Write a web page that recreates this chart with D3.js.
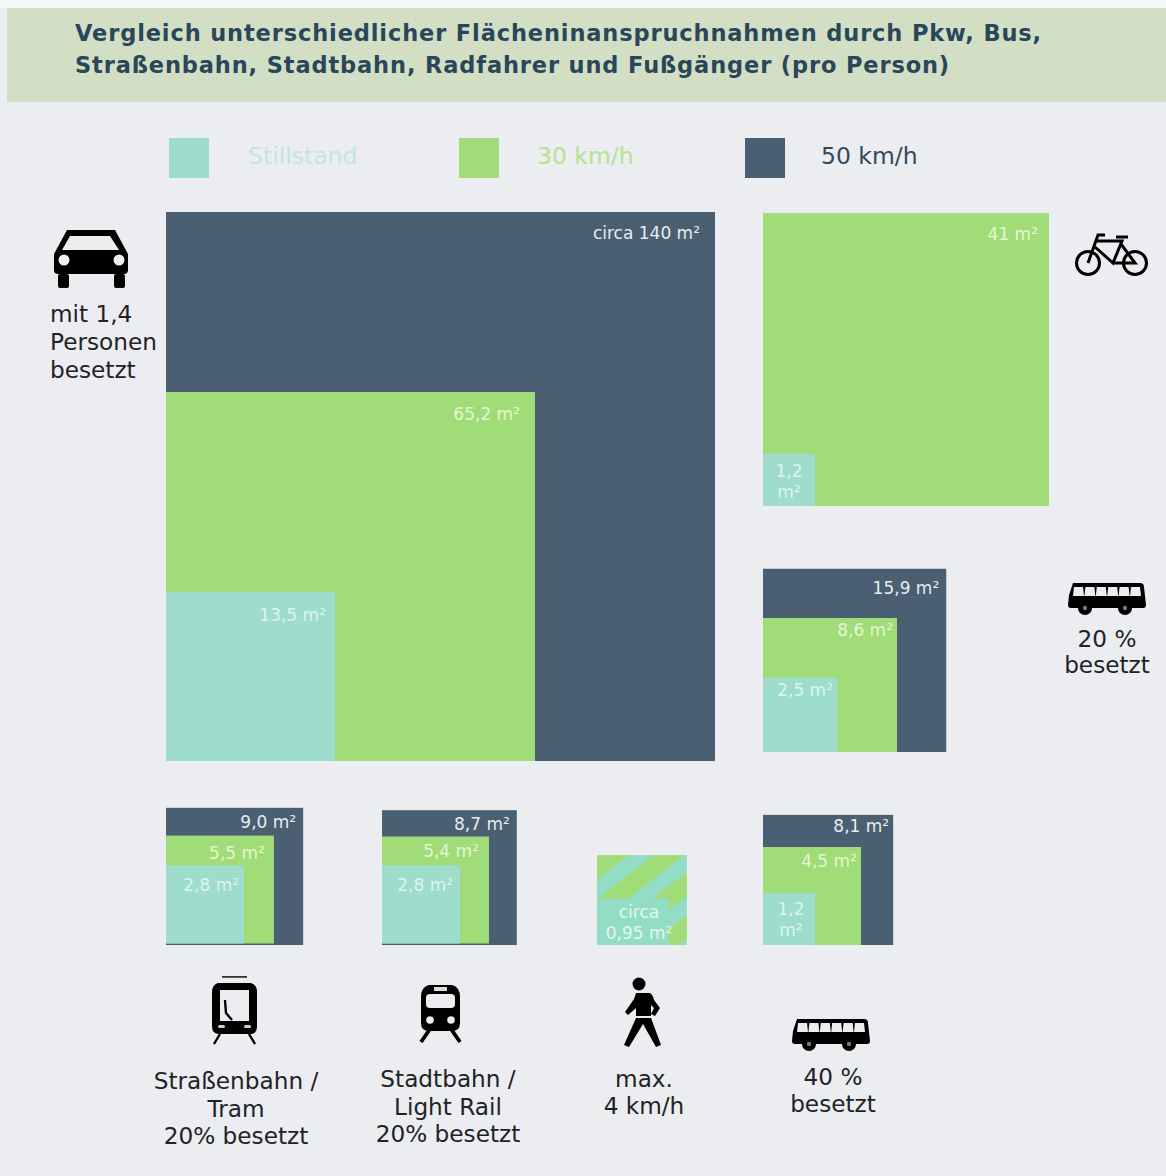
<!DOCTYPE html>
<html lang="de">
<head>
<meta charset="utf-8">
<title>Flächeninanspruchnahme</title>
<script src="https://cdn.jsdelivr.net/npm/d3@7"></script>
<style>
html, body { margin: 0; padding: 0; background: #ebedf1; }
svg { display: block; }
text { font-family: "DejaVu Sans", sans-serif; }
</style>
</head>
<body>
<script>
// Werte in m2 pro Person, von klein nach gross (Stillstand, 30 km/h, 50 km/h)
var speeds = ["Stillstand", "30 km/h", "50 km/h"];
var pkwValues = [13.5, 65.2, 140];
var bikeValues = [1.2, 41];
var bus20Values = [2.5, 8.6, 15.9];
var tramValues = [2.8, 5.5, 9.0];
var stadtbahnValues = [2.8, 5.4, 8.7];
var bus40Values = [1.2, 4.5, 8.1];
var walkValues = [0.95];
var walkStripedArea = [3.76];   // gestreiftes Feld, im Bild groesser als der Wert

var pkwLabels = ["13,5 m²", "65,2 m²", "circa 140 m²"];
var bikeLabels = [["1,2", "m²"], "41 m²"];
var bus20Labels = ["2,5 m²", "8,6 m²", "15,9 m²"];
var tramLabels = ["2,8 m²", "5,5 m²", "9,0 m²"];
var stadtbahnLabels = ["2,8 m²", "5,4 m²", "8,7 m²"];
var bus40Labels = [["1,2", "m²"], "4,5 m²", "8,1 m²"];
var walkLabels = [["circa", "0,95 m²"]];

var titleLines = [
    "Vergleich unterschiedlicher Flächeninanspruchnahmen durch Pkw, Bus,",
    "Straßenbahn, Stadtbahn, Radfahrer und Fußgänger (pro Person)"
];

var w = 1166;
var h = 1176;
var bg = "#ebedf1";
var ink = "#1f2326";
var colors = ["#9edccb", "#a0dc78", "#4a6072"];
var labelColors = ["#dcf5ee", "#e4f7d2", "#e6edf0"];

// Kantenlaenge aus der Flaeche, Stuetzstellen aus dem Bild gelesen
var side = d3.scaleSqrt()
    .domain([0, 1.2, 2.5, 8.6, 13.5, 65.2, 140])
    .range([0, 52, 74, 134, 169, 369, 549]);

var color = d3.scaleOrdinal().domain(speeds).range(colors);
var labelColor = d3.scaleOrdinal().domain(speeds).range(labelColors);

var svg = d3.select("body")
    .append("svg")
    .attr("width", w)
    .attr("height", h);

svg.append("rect").attr("width", w).attr("height", h).attr("fill", bg);
svg.append("rect").attr("width", w).attr("height", 8).attr("fill", "#f6f7f8");

// Kopfzeile
svg.append("rect")
    .attr("x", 7).attr("y", 8)
    .attr("width", w - 7).attr("height", 94)
    .attr("fill", "#d2dfc5");

svg.selectAll("text.title")
    .data(titleLines)
    .enter()
    .append("text")
    .attr("class", "title")
    .attr("x", 75)
    .attr("y", function(d, i) { return 41 + i * 32; })
    .attr("font-size", "22.5px")
    .attr("font-weight", "bold")
    .attr("letter-spacing", "0.87px")
    .attr("fill", "#2b4659")
    .text(function(d) { return d; });

// Legende
var legendX = [169, 459, 745];
var legendTextX = [248, 537, 821];
var legendText = ["#bfe8dd", "#b4e392", "#33495c"];

svg.selectAll("rect.legend")
    .data(speeds)
    .enter()
    .append("rect")
    .attr("class", "legend")
    .attr("x", function(d, i) { return legendX[i]; })
    .attr("y", 138)
    .attr("width", 40)
    .attr("height", 40)
    .attr("fill", function(d) { return color(d); });

svg.selectAll("text.legend")
    .data(speeds)
    .enter()
    .append("text")
    .attr("class", "legend")
    .attr("x", function(d, i) { return legendTextX[i]; })
    .attr("y", 164)
    .attr("font-size", "23.5px")
    .attr("fill", function(d, i) { return legendText[i]; })
    .text(function(d) { return d; });

// Gestreiftes Muster fuer das Fussgaengerfeld
var pattern = svg.append("defs").append("pattern")
    .attr("id", "walkStripes")
    .attr("patternUnits", "userSpaceOnUse")
    .attr("width", 34)
    .attr("height", 34)
    .attr("patternTransform", "translate(597 880) rotate(-38)");
pattern.append("rect").attr("width", 34).attr("height", 34).attr("fill", colors[1]);
pattern.append("rect").attr("width", 34).attr("height", 15).attr("fill", "#93dcc6");

var panels = [
    { values: pkwValues, labels: pkwLabels, x: 166, bottom: 761, outerStretch: 1, inset: 0,
      offs: [[9, 23], [15, 22], [15, 21]] },
    { values: bikeValues, labels: bikeLabels, x: 763, bottom: 506, outerStretch: 0.976, inset: 0,
      speedIdx: [0, 1], offs: [[26, 17], [11, 21]] },
    { values: bus20Values, labels: bus20Labels, x: 763, bottom: 752, outerStretch: 1, inset: 0,
      offs: [[4, 12], [4, 12], [7, 19]] },
    { values: tramValues, labels: tramLabels, x: 166, bottom: 945, outerStretch: 1, inset: 1.5,
      offs: [[5, 18], [9, 16], [7, 14]] },
    { values: stadtbahnValues, labels: stadtbahnLabels, x: 382, bottom: 945, outerStretch: 1, inset: 1.5,
      offs: [[7, 18], [10, 13], [7, 14]] },
    { values: bus40Values, labels: bus40Labels, x: 763, bottom: 945, outerStretch: 1, inset: 0,
      offs: [[24, 16], [4, 14], [4, 11]] }
];

panels.forEach(function(p) {
    var g = svg.append("g");
    var last = p.values.length - 1;
    var rows = p.values.map(function(v, i) {
        return {
            value: v,
            label: p.labels[i],
            off: p.offs[i],
            speed: speeds[p.speedIdx ? p.speedIdx[i] : i],
            stretch: i === last ? p.outerStretch : 1,
            inset: i === last ? 0 : p.inset
        };
    });
    // groesstes Quadrat zuerst
    var order = rows.slice().reverse();

    g.selectAll("rect")
        .data(order)
        .enter()
        .append("rect")
        .attr("x", p.x)
        .attr("y", function(d) { return p.bottom - d.inset - side(d.value); })
        .attr("width", function(d) { return side(d.value) * d.stretch; })
        .attr("height", function(d) { return side(d.value); })
        .attr("fill", function(d) { return color(d.speed); });

    order.forEach(function(d) {
        var right = p.x + side(d.value) * d.stretch - d.off[0];
        var top = p.bottom - side(d.value) + d.off[1];
        addSquareLabel(g, d.label, right, top, labelColor(d.speed));
    });
});

// Fussgaenger
svg.selectAll("rect.walk")
    .data(walkStripedArea)
    .enter()
    .append("rect")
    .attr("class", "walk")
    .attr("x", 597)
    .attr("y", function(d) { return 945 - side(d); })
    .attr("width", function(d) { return side(d); })
    .attr("height", function(d) { return side(d); })
    .attr("fill", "url(#walkStripes)");

svg.selectAll("rect.walkCore")
    .data(walkValues)
    .enter()
    .append("rect")
    .attr("class", "walkCore")
    .attr("x", 597)
    .attr("y", function(d) { return 945 - side(d); })
    .attr("width", function(d) { return side(d) * 1.55; })
    .attr("height", function(d) { return side(d); })
    .attr("fill", "#93dcc6");

walkLabels[0].forEach(function(t, i) {
    svg.append("text")
        .attr("x", 639)
        .attr("y", 918 + i * 21)
        .attr("text-anchor", "middle")
        .attr("font-size", "17px")
        .attr("fill", "#e4f7ee")
        .text(t);
});

function addSquareLabel(g, label, right, top, fill) {
    if (Array.isArray(label)) {
        // zweizeilig und mittig, right meint hier die Mitte
        label.forEach(function(t, i) {
            g.append("text")
                .attr("x", right)
                .attr("y", top + 6 + i * 21)
                .attr("text-anchor", "middle")
                .attr("font-size", "17px")
                .attr("fill", fill)
                .text(t);
        });
        return;
    }
    g.append("text")
        .attr("x", right)
        .attr("y", top + 6)
        .attr("text-anchor", "end")
        .attr("font-size", "17px")
        .attr("fill", fill)
        .text(label);
}

// Beschriftungen der Verkehrsmittel
var captions = [
    { lines: ["mit 1,4", "Personen", "besetzt"], x: 50, y: 322, step: 28, anchor: "start" },
    { lines: ["20 %", "besetzt"], x: 1107, y: 647, step: 26, anchor: "middle" },
    { lines: ["Straßenbahn /", "Tram", "20% besetzt"], x: 236, y: 1089, step: 27.5, anchor: "middle" },
    { lines: ["Stadtbahn /", "Light Rail", "20% besetzt"], x: 448, y: 1087, step: 27.5, anchor: "middle" },
    { lines: ["max.", "4 km/h"], x: 644, y: 1087, step: 27, anchor: "middle" },
    { lines: ["40 %", "besetzt"], x: 833, y: 1085, step: 27, anchor: "middle" }
];

captions.forEach(function(c) {
    c.lines.forEach(function(t, i) {
        svg.append("text")
            .attr("x", c.x)
            .attr("y", c.y + i * c.step)
            .attr("text-anchor", c.anchor)
            .attr("font-size", "23.2px")
            .attr("fill", ink)
            .text(t);
    });
});

// Piktogramme
function icon(x, y) {
    return svg.append("g")
        .attr("transform", "translate(" + x + "," + y + ")")
        .attr("fill", "#000");
}

function drawCar(g) {
    g.append("path").attr("d", "M13,0 H61 L74,24 V40 Q74,44 70,44 H4 Q0,44 0,40 V24 Z");
    g.append("path").attr("d", "M16,6 H56 L65,20 H8 Z").attr("fill", bg);
    g.append("rect").attr("x", 4).attr("y", 44).attr("width", 11).attr("height", 14).attr("rx", 2);
    g.append("rect").attr("x", 60).attr("y", 44).attr("width", 11).attr("height", 14).attr("rx", 2);
    g.append("circle").attr("cx", 10).attr("cy", 30).attr("r", 5.5).attr("fill", bg);
    g.append("circle").attr("cx", 65).attr("cy", 30).attr("r", 5.5).attr("fill", bg);
}

function drawBike(g) {
    g.attr("fill", "none").attr("stroke", "#000").attr("stroke-width", 3);
    g.append("circle").attr("cx", 13).attr("cy", 29).attr("r", 11.5);
    g.append("circle").attr("cx", 60).attr("cy", 29).attr("r", 11.5);
    g.append("path").attr("d", "M30,1 H23 L13,29");
    g.append("path").attr("d", "M22,7 H47 L38,29 L20,13");
    g.append("path").attr("d", "M38,29 H60 L46,10");
    g.append("path").attr("d", "M41,3 H53");
}

function drawBus(g) {
    g.append("path").attr("d", "M5,0 H72 Q76,0 76,4 L78,22 Q78,25 75,25 H3 Q0,25 0,22 L1,12 Z");
    d3.range(6).forEach(function(i) {
        var x0 = 6 + i * 11.4;
        g.append("path")
            .attr("d", "M" + x0 + ",4 h9 l1,9 h-11 Z")
            .attr("fill", bg);
    });
    [17, 57].forEach(function(cx) {
        g.append("circle").attr("cx", cx).attr("cy", 25).attr("r", 7);
        g.append("circle").attr("cx", cx).attr("cy", 25).attr("r", 2.2).attr("fill", "#777");
    });
}

function drawTram(g) {
    g.append("rect").attr("x", 10).attr("y", 0).attr("width", 25).attr("height", 1.8).attr("fill", "#333");
    g.append("path").attr("d", "M6,7 H39 Q45,9 45,16 V50 Q45,58 38,58 H7 Q0,58 0,50 V16 Q0,9 6,7 Z");
    g.append("rect").attr("x", 8).attr("y", 14).attr("width", 29).attr("height", 31).attr("fill", bg);
    g.append("path")
        .attr("d", "M13,24 L14,37 L20,44")
        .attr("fill", "none").attr("stroke", "#000").attr("stroke-width", 2.4);
    g.append("rect").attr("x", 6).attr("y", 49).attr("width", 7).attr("height", 3).attr("rx", 1.5).attr("fill", "#ccc");
    g.append("rect").attr("x", 32).attr("y", 49).attr("width", 7).attr("height", 3).attr("rx", 1.5).attr("fill", "#ccc");
    g.append("path")
        .attr("d", "M8,58 L2,68 M37,58 L43,68")
        .attr("stroke", "#000").attr("stroke-width", 2.4);
}

function drawLightRail(g) {
    g.append("path").attr("d", "M8,0 H31 Q39,2 39,12 V38 Q39,46 31,46 H8 Q0,46 0,38 V12 Q0,2 8,0 Z");
    g.append("rect").attr("x", 13).attr("y", 2).attr("width", 13).attr("height", 4).attr("fill", "#ddd");
    g.append("rect").attr("x", 5).attr("y", 9).attr("width", 29).attr("height", 14).attr("rx", 4).attr("fill", bg);
    g.append("circle").attr("cx", 9).attr("cy", 35).attr("r", 3.8).attr("fill", bg);
    g.append("circle").attr("cx", 30).attr("cy", 35).attr("r", 3.8).attr("fill", bg);
    g.append("path")
        .attr("d", "M9,44 L0,57 M30,44 L39,57")
        .attr("stroke", "#000").attr("stroke-width", 3.8);
}

function drawWalker(g) {
    g.append("circle").attr("cx", 16).attr("cy", 12).attr("r", 6.5);
    g.append("path").attr("d", "M13,21 H27 Q30,23 31,28 L37,36 L32,44 L28,42 L31,36 L28,33 V44 H13 V36 L5,43 L2,40 L11,27 Z");
    g.append("path").attr("d", "M13,46 H28 L38,73 L33,75 L20,52 L6,75 L1,73 Z");
}

drawCar(icon(54, 230));
drawBike(icon(1075, 234));
drawBus(icon(1068, 583));
drawBus(icon(792, 1019));
drawTram(icon(212, 976));
drawLightRail(icon(421, 985));
drawWalker(icon(623, 972));
</script>
</body>
</html>
